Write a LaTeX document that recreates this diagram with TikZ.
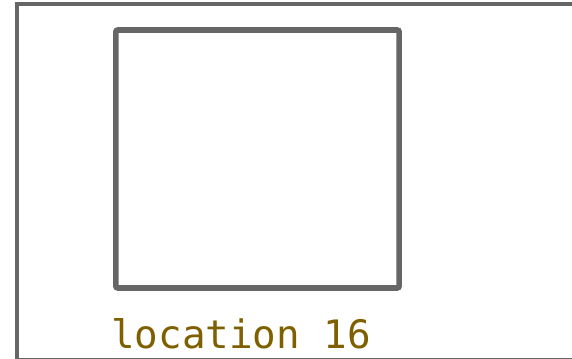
\documentclass[tikz,border=0pt]{standalone}
\usepackage{fontspec}
\setmonofont{DejaVu Sans Mono}
\usepackage{tikz}
\usetikzlibrary{positioning}
\definecolor{framegray}{HTML}{666666}
\definecolor{labelolive}{HTML}{7F6000}
\tikzset{
  outerframe/.style={draw=framegray, line width=3pt},
  locbox/.style={rectangle, draw=framegray, line width=4.2pt, rounded corners=1.5pt, minimum width=212.5pt, minimum height=193.5pt, inner sep=0pt},
  loclabel/.style={font=\ttfamily\fontsize{29.4}{33}\selectfont, text=labelolive, inner sep=0pt, anchor=base west},
}
\begin{document}
\begin{tikzpicture}[x=0.75pt, y=-0.75pt]
\useasboundingbox (0,0) rectangle (572,359);
\clip (0,0) rectangle (572,359);
\draw[outerframe] (17,4) rectangle (600,360);
\node[locbox] (loc) at (257.5,159) {};
\node[loclabel] (loclbl) at (111,349) {location 16};
\end{tikzpicture}
\end{document}
